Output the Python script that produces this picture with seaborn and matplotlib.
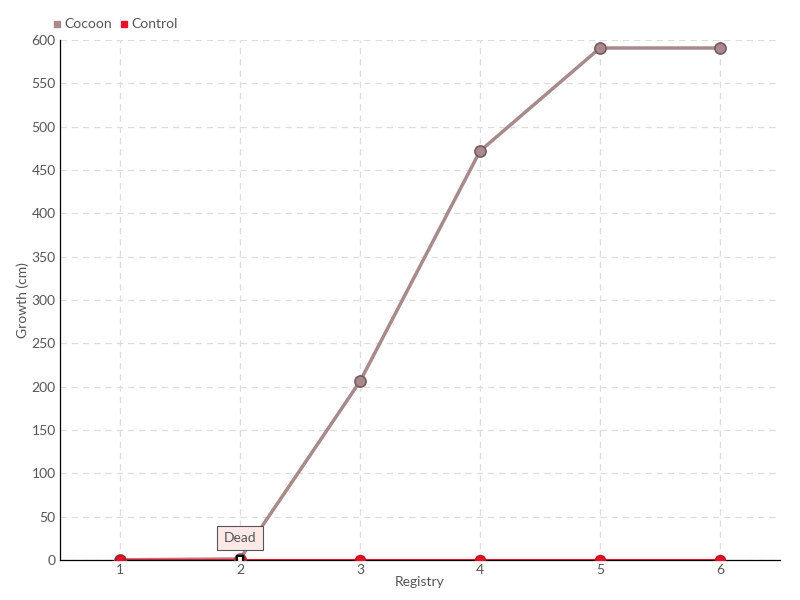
import matplotlib.pyplot as plt
import seaborn as sns
import pandas as pd

registry = [1, 2, 3, 4, 5, 6]
cocoon = [0, 1, 206, 472, 591, 591]
control = [0, 0, 0, 0, 0, 0]

df = pd.DataFrame({
    "Registry": registry * 2,
    "Growth": cocoon + control,
    "Series": ["Cocoon"] * 6 + ["Control"] * 6,
})

sns.set_theme(style="white")
plt.rcParams["font.family"] = ["Lato", "DejaVu Sans"]

colors = {"Cocoon": "#a88a8c", "Control": "#e8102a"}
edges = {"Cocoon": "#7a5a5e", "Control": "#c0101e"}

fig, ax = plt.subplots(figsize=(8, 6), dpi=100)
fig.subplots_adjust(left=0.075, right=0.975, top=0.933, bottom=0.067)

for name in ["Cocoon", "Control"]:
    sub = df[df["Series"] == name]
    lw = 2.5 if name == "Cocoon" else 1.5
    ms = 8 if name == "Cocoon" else 7
    sns.lineplot(data=sub, x="Registry", y="Growth", ax=ax, color=colors[name],
                 linewidth=lw, marker="o", markersize=ms,
                 markeredgecolor=edges[name], markeredgewidth=1.2, zorder=3)

# annotation on the Cocoon point at registry 2
ax.plot(registry[1], cocoon[1], marker="s", markersize=5, markerfacecolor="white",
        markeredgecolor="black", markeredgewidth=1.5, zorder=5)
ax.annotate("Dead", xy=(registry[1], cocoon[1]), xytext=(0, 15), textcoords="offset points",
            ha="center", va="center", fontsize=10, color="#555555",
            bbox=dict(boxstyle="square,pad=0.45", fc="#fde8e8", ec="#555555", lw=0.8),
            zorder=6)

ax.set_xlim(0.5, 6.5)
ax.set_ylim(0, 600)
ax.set_xticks(registry)
ax.set_yticks(range(0, 601, 50))
ax.set_xlabel("Registry", color="#555555", fontsize=10, labelpad=0)
ax.set_ylabel("Growth (cm)", color="#555555", fontsize=10, labelpad=2)
ax.tick_params(axis="both", colors="#555555", labelsize=10, length=4, width=0.8,
               direction="inout", pad=1)

ax.grid(True, color="#dddddd", linestyle=(0, (5, 4)), linewidth=0.9)
ax.set_axisbelow(True)
for s in ["top", "right"]:
    ax.spines[s].set_visible(False)
for s in ["left", "bottom"]:
    ax.spines[s].set_color("black")
    ax.spines[s].set_linewidth(0.9)

handles = [plt.Line2D([], [], marker="s", linestyle="", color=colors[n], markersize=5)
           for n in ["Cocoon", "Control"]]
leg = ax.legend(handles, ["Cocoon", "Control"], loc="lower left", bbox_to_anchor=(-0.025, 1.0),
                ncol=2, frameon=False, fontsize=10, handletextpad=0.1, columnspacing=0.5,
                borderaxespad=0.3, handlelength=0.8)
for t in leg.get_texts():
    t.set_color("#555555")

fig.savefig("out.png", dpi=100)
